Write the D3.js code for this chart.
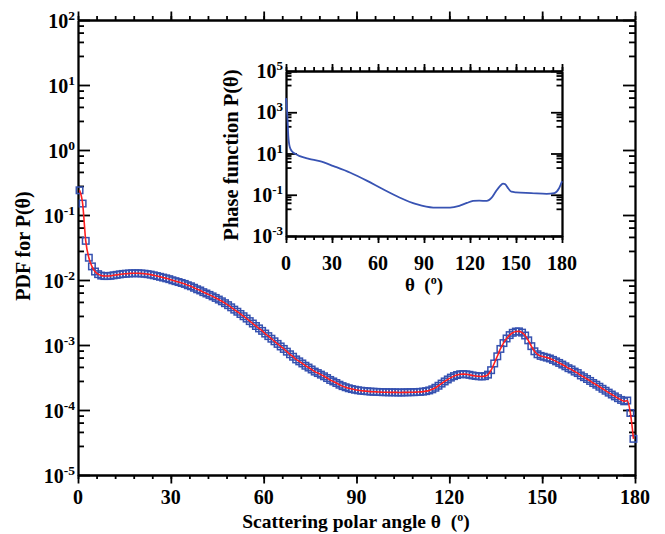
<!DOCTYPE html>
<html>
<head>
<meta charset="utf-8">
<script src="https://cdn.jsdelivr.net/npm/d3@7"></script>
<style>
  html, body { margin: 0; padding: 0; background: #fff; }
  svg text { font-family: "Liberation Serif", "Times New Roman", serif; font-weight: bold; fill: #000; }
</style>
</head>
<body>
<svg id="chart" width="665" height="534"></svg>
<script>
// ---- data -------------------------------------------------------------
// PDF sampled at the centre of each 1-degree bin (0.5 ... 179.5)
const binCenters = d3.range(0.5, 180, 1);
const pdfValues = [
  2.4e-1, 1.5e-1, 4.0e-2, 2.2e-2, 1.62e-2, 1.35e-2, 1.23e-2, 1.17e-2, 1.15e-2, 1.15e-2,
  1.16e-2, 1.18e-2, 1.20e-2, 1.22e-2, 1.24e-2, 1.25e-2, 1.26e-2, 1.27e-2, 1.27e-2, 1.27e-2,
  1.26e-2, 1.25e-2, 1.23e-2, 1.21e-2, 1.18e-2, 1.15e-2, 1.12e-2, 1.09e-2, 1.06e-2, 1.03e-2,
  9.9e-3, 9.6e-3, 9.3e-3, 9.0e-3, 8.7e-3, 8.3e-3, 8.0e-3, 7.6e-3, 7.2e-3, 6.9e-3,
  6.5e-3, 6.2e-3, 5.9e-3, 5.6e-3, 5.3e-3, 5.0e-3, 4.7e-3, 4.4e-3, 4.1e-3, 3.8e-3,
  3.5e-3, 3.25e-3, 3.0e-3, 2.77e-3, 2.55e-3, 2.33e-3, 2.14e-3, 1.96e-3, 1.80e-3, 1.65e-3,
  1.50e-3, 1.37e-3, 1.25e-3, 1.14e-3, 1.04e-3, 9.5e-4, 8.7e-4, 7.9e-4, 7.2e-4, 6.6e-4,
  6.0e-4, 5.6e-4, 5.2e-4, 4.8e-4, 4.5e-4, 4.2e-4, 3.9e-4, 3.7e-4, 3.5e-4, 3.3e-4,
  3.1e-4, 2.9e-4, 2.75e-4, 2.6e-4, 2.45e-4, 2.33e-4, 2.24e-4, 2.16e-4, 2.10e-4, 2.05e-4,
  2.01e-4, 1.98e-4, 1.96e-4, 1.94e-4, 1.92e-4, 1.91e-4, 1.90e-4, 1.89e-4, 1.88e-4, 1.88e-4,
  1.87e-4, 1.87e-4, 1.87e-4, 1.86e-4, 1.86e-4, 1.87e-4, 1.87e-4, 1.88e-4, 1.88e-4, 1.89e-4,
  1.90e-4, 1.92e-4, 1.95e-4, 2.00e-4, 2.08e-4, 2.20e-4, 2.36e-4, 2.55e-4, 2.75e-4, 2.95e-4,
  3.15e-4, 3.32e-4, 3.45e-4, 3.55e-4, 3.57e-4, 3.54e-4, 3.48e-4, 3.40e-4, 3.34e-4, 3.30e-4,
  3.28e-4, 3.32e-4, 3.50e-4, 4.1e-4, 5.2e-4, 6.7e-4, 8.7e-4, 1.07e-3, 1.26e-3, 1.42e-3,
  1.54e-3, 1.61e-3, 1.62e-3, 1.55e-3, 1.40e-3, 1.18e-3, 9.6e-4, 8.0e-4, 7.2e-4, 6.8e-4,
  6.6e-4, 6.4e-4, 6.2e-4, 5.9e-4, 5.6e-4, 5.3e-4, 5.0e-4, 4.7e-4, 4.4e-4, 4.2e-4,
  3.9e-4, 3.7e-4, 3.4e-4, 3.2e-4, 3.0e-4, 2.8e-4, 2.6e-4, 2.45e-4, 2.28e-4, 2.12e-4,
  1.98e-4, 1.85e-4, 1.73e-4, 1.62e-4, 1.52e-4, 1.43e-4, 1.36e-4, 1.40e-4, 9.0e-5, 3.6e-5
];

// phase function shown in the inset
const phaseAngles = [0, 0.5, 1, 1.5, 2.5, 4, 6, 9, 15, 22, 31, 42, 53, 63, 74, 85, 96, 107,
  113, 118, 122, 126, 131, 134, 137, 139.5, 141.5, 143, 145, 147, 150, 160, 170, 175, 178, 180];
const phaseValues = [4800, 1800, 450, 70, 20, 12.5, 9.6, 7.4, 5.5, 4.3, 2.45, 1.17, 0.47, 0.19,
  0.074, 0.035, 0.024, 0.024, 0.029, 0.04, 0.05, 0.052, 0.05, 0.07, 0.15, 0.26, 0.35, 0.32,
  0.2, 0.14, 0.13, 0.12, 0.11, 0.12, 0.2, 0.45];

// axis ticks
const angleTicks = [0, 30, 60, 90, 120, 150, 180];
const angleMinorTicks = d3.range(0, 181, 6);
const pdfTicks = [1e-5, 1e-4, 1e-3, 1e-2, 1e-1, 1e0, 1e1, 1e2];
const pdfMinorSteps = [2.8, 4.6, 6.4, 8.2];
const phaseTicks = [1e-3, 1e-1, 1e1, 1e3, 1e5];
const phaseMinorSteps = [20.8, 40.6, 60.4, 80.2];

// ---- drawing ----------------------------------------------------------
const svg = d3.select("#chart");
const AXIS_W = 1.8;
const squareBlue = "#3551b0";
const lineRed = "#ff1f1f";

function styleAxis(g) {
  g.selectAll("path.domain").attr("stroke", "#000").attr("stroke-width", AXIS_W);
  g.selectAll(".tick line").attr("stroke", "#000").attr("stroke-width", AXIS_W);
  g.selectAll("text").remove();
}

function powerLabel(sel, value, fontSize, supSize, supShift) {
  const exp = Math.round(Math.log10(value));
  const t = sel.append("text").attr("text-anchor", "end").style("font-size", fontSize + "px");
  t.append("tspan").text("10");
  t.append("tspan").attr("dy", -supShift).style("font-size", supSize + "px").text(String(exp));
  return t;
}

function drawFrame(g, x, y, opt) {
  const [x0, x1] = x.range();
  const [yb, yt] = y.range();
  // bottom and top: ticks point outwards
  g.append("g").attr("transform", `translate(0,${yb})`)
    .call(d3.axisBottom(x).tickValues(opt.xMinor).tickSize(opt.minorOut).tickSizeOuter(0)).call(styleAxis);
  g.append("g").attr("transform", `translate(0,${yb})`)
    .call(d3.axisBottom(x).tickValues(opt.xMajor).tickSize(opt.majorOut).tickSizeOuter(0)).call(styleAxis);
  g.append("g").attr("transform", `translate(0,${yt})`)
    .call(d3.axisTop(x).tickValues(opt.xMinor).tickSize(opt.minorOut).tickSizeOuter(0)).call(styleAxis);
  g.append("g").attr("transform", `translate(0,${yt})`)
    .call(d3.axisTop(x).tickValues(opt.xMajor).tickSize(opt.majorOut).tickSizeOuter(0)).call(styleAxis);
  // left and right: ticks point inwards
  g.append("g").attr("transform", `translate(${x0},0)`)
    .call(d3.axisRight(y).tickValues(opt.yMinor).tickSize(opt.minorIn).tickSizeOuter(0)).call(styleAxis);
  g.append("g").attr("transform", `translate(${x0},0)`)
    .call(d3.axisRight(y).tickValues(opt.yMajor).tickSize(opt.majorIn).tickSizeOuter(0)).call(styleAxis);
  g.append("g").attr("transform", `translate(${x1},0)`)
    .call(d3.axisLeft(y).tickValues(opt.yMinor).tickSize(opt.minorIn).tickSizeOuter(0)).call(styleAxis);
  g.append("g").attr("transform", `translate(${x1},0)`)
    .call(d3.axisLeft(y).tickValues(opt.yMajor).tickSize(opt.majorIn).tickSizeOuter(0)).call(styleAxis);
}

function minorLog(majors, steps) {
  const out = [];
  majors.slice(0, -1).forEach(m => steps.forEach(s => out.push(m * s)));
  return out;
}

// ---------------- main panel ----------------
const x = d3.scaleLinear().domain([0, 180]).range([78, 635]);
const y = d3.scaleLog().domain([1e-5, 1e2]).range([475, 20]);

const main = svg.append("g");
drawFrame(main, x, y, {
  xMajor: angleTicks, xMinor: angleMinorTicks,
  yMajor: pdfTicks, yMinor: minorLog(pdfTicks, pdfMinorSteps),
  majorOut: 8.5, minorOut: 4, majorIn: 12, minorIn: 6
});

// x tick labels
main.append("g").selectAll("text").data(angleTicks).join("text")
  .attr("x", d => x(d)).attr("y", 504)
  .attr("text-anchor", "middle").style("font-size", "20px")
  .text(d => d);

// y tick labels
pdfTicks.forEach(v => {
  powerLabel(main, v, 20, 13.5, 8).attr("x", 75).attr("y", y(v) + 8);
});

// axis titles
const xTitle = main.append("text").attr("x", 356).attr("y", 528)
  .attr("text-anchor", "middle").style("font-size", "19.5px");
xTitle.append("tspan").text("Scattering polar angle \u03B8\u00A0\u00A0(");
xTitle.append("tspan").attr("dy", -7).style("font-size", "12px").text("o");
xTitle.append("tspan").attr("dy", 7).text(")");

main.append("text")
  .attr("transform", "translate(30,246) rotate(-90)")
  .attr("text-anchor", "middle").style("font-size", "20px")
  .text("PDF for P(\u03B8)");

// markers then red line
const pts = binCenters.map((t, i) => [t, pdfValues[i]]);
const SQ = 6.5;
main.append("g").selectAll("rect").data(pts).join("rect")
  .attr("x", d => x(d[0]) - SQ / 2).attr("y", d => y(d[1]) - SQ / 2)
  .attr("width", SQ).attr("height", SQ)
  .attr("fill", "none").attr("stroke", squareBlue).attr("stroke-width", 1.5);

main.append("path").datum(pts)
  .attr("fill", "none").attr("stroke", lineRed).attr("stroke-width", 1.6)
  .attr("d", d3.line().x(d => x(d[0])).y(d => y(d[1])).curve(d3.curveMonotoneX));

// ---------------- inset panel ----------------
const xi = d3.scaleLinear().domain([0, 180]).range([286, 562]);
const yi = d3.scaleLog().domain([1e-3, 1e5]).range([236, 71]);

const inset = svg.append("g");
inset.append("rect").attr("x", 286).attr("y", 71).attr("width", 276).attr("height", 165).attr("fill", "#fff");
drawFrame(inset, xi, yi, {
  xMajor: angleTicks, xMinor: angleMinorTicks,
  yMajor: phaseTicks, yMinor: minorLog(phaseTicks, phaseMinorSteps),
  majorOut: 7, minorOut: 4, majorIn: 11, minorIn: 5.5
});

inset.append("g").selectAll("text").data(angleTicks).join("text")
  .attr("x", d => xi(d)).attr("y", 270)
  .attr("text-anchor", "middle").style("font-size", "20px")
  .text(d => d);

phaseTicks.forEach(v => {
  powerLabel(inset, v, 20, 13, 8).attr("x", 283).attr("y", yi(v) + 7);
});

const xiTitle = inset.append("text").attr("x", 424).attr("y", 291)
  .attr("text-anchor", "middle").style("font-size", "19px");
xiTitle.append("tspan").text("\u03B8\u00A0\u00A0(");
xiTitle.append("tspan").attr("dy", -7).style("font-size", "12px").text("o");
xiTitle.append("tspan").attr("dy", 7).text(")");

inset.append("text")
  .attr("transform", "translate(238,155) rotate(-90)")
  .attr("text-anchor", "middle").style("font-size", "20.5px")
  .text("Phase function P(\u03B8)");

inset.append("path").datum(phaseAngles.map((t, i) => [t, phaseValues[i]]))
  .attr("fill", "none").attr("stroke", "#3853b3").attr("stroke-width", 1.8)
  .attr("d", d3.line().x(d => xi(d[0])).y(d => yi(d[1])).curve(d3.curveMonotoneX));
</script>
</body>
</html>
